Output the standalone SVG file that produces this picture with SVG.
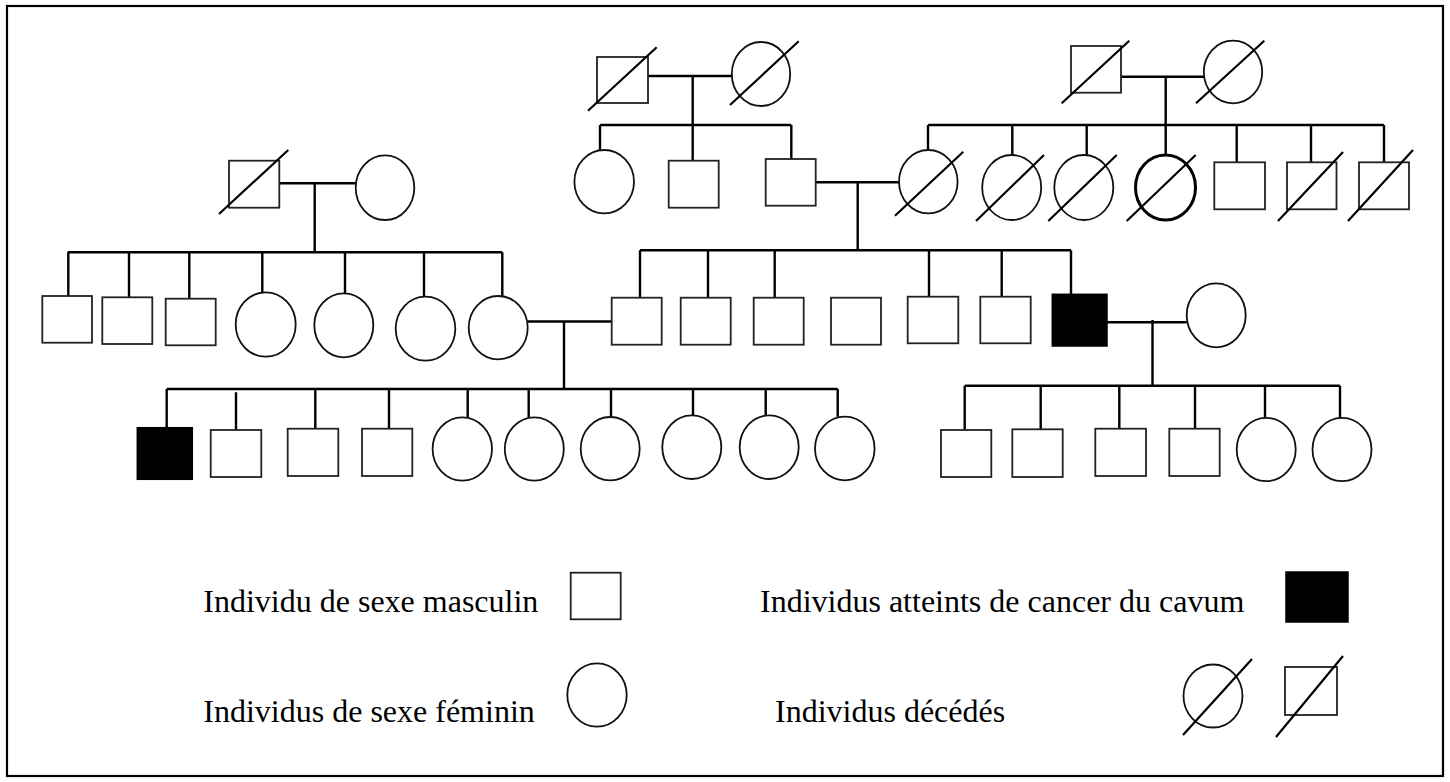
<svg xmlns="http://www.w3.org/2000/svg" width="1450" height="782" viewBox="0 0 1450 782">
<style>
.m{fill:#fff;stroke:#222;stroke-width:1.8}
.f{fill:#fff;stroke:#111;stroke-width:1.8}
.fb{fill:#fff;stroke:#000;stroke-width:3}
.a{fill:#000;stroke:#000;stroke-width:1.5}
.d{stroke:#000;stroke-width:2.2;fill:none}
.c{stroke:#000;stroke-width:2.4;fill:none}
.t{font-family:"Liberation Serif","Times New Roman",serif;font-size:32px;fill:#000}
</style>
<rect x="7" y="6" width="1436" height="770" fill="#fff" stroke="#000" stroke-width="2.2"/>
<g id="connectors" class="c">
<!-- top middle couple -->
<path d="M648 76H732M692.7 76V125M600 125H791.3M600 125V150M692.7 125V160.7M791.3 125V159"/>
<!-- top right couple -->
<path d="M1121 76.7H1204M1165.7 76.7V125M928 125H1384M928 125V150M1012.3 125V155M1086.7 125V155M1165.7 125V155M1236.7 125V162.3M1311 125V162M1384 125V162"/>
<!-- middle couple -->
<path d="M815.7 182.3H899M857.7 182.3V250.3M640 250.3H1071M640 250.3V297.7M708 250.3V297.7M774.7 250.3V297.7M929 250.3V296.7M1001.7 250.3V296.7M1071 250.3V294.3"/>
<!-- left grandparents -->
<path d="M279.3 183.3H355.7M314.7 183.3V252.3M67.7 252.3H502.3M68.3 252.3V296M129 252.3V297.3M189.3 252.3V298.7M262.3 252.3V292.3M345 252.3V293.3M424 252.3V296.7M502.3 252.3V296"/>
<!-- row2 left couple -->
<path d="M527.7 321.5H611.7M564 320.5V389M166.7 389H837.7M166.7 389V427.7M236 392.3V430M315.3 389V428.7M389 389V428.7M467.7 389V417.3M528.7 389V417.3M611 389V417M693 389V415.3M765.7 389V415.3M837.7 389V416.7"/>
<!-- row2 right couple -->
<path d="M1107 322.3H1186.7M1152.5 320V385.7M964.7 385.7H1340M964.7 385.7V430M1040.7 385.7V429.3M1119.3 385.7V428.7M1195 385.7V428.7M1265 385.7V418M1340 385.7V418"/>
</g>
<g id="gen1">
<g id="n-gm1"><rect class="m" x="597" y="57" width="51" height="46"/><line class="d" x1="588" y1="110.7" x2="656.7" y2="47.3"/></g>
<g id="n-gf1"><ellipse class="f" cx="761" cy="74" rx="29.2" ry="32"/><line class="d" x1="730" y1="105" x2="798.7" y2="41.3"/></g>
<g id="n-gm2"><rect class="m" x="1071" y="46" width="50" height="46.7"/><line class="d" x1="1061.7" y1="103.3" x2="1129.3" y2="40.7"/></g>
<g id="n-gf2"><ellipse class="f" cx="1233" cy="72" rx="29.2" ry="31.3"/><line class="d" x1="1196" y1="103.3" x2="1264.3" y2="40.7"/></g>
</g>
<g id="gen2">
<g id="n-lgm"><rect class="m" x="229" y="160.7" width="50.3" height="47"/><line class="d" x1="219" y1="214" x2="288.3" y2="150"/></g>
<g id="n-lgf"><ellipse class="f" cx="385" cy="187.7" rx="29.3" ry="32.3"/></g>
<g id="n-c1"><ellipse class="f" cx="604.2" cy="181.7" rx="29.8" ry="31.7"/></g>
<g id="n-c2"><rect class="m" x="668.7" y="160.7" width="50" height="47"/></g>
<g id="n-c3"><rect class="m" x="765.7" y="159" width="50" height="46.7"/></g>
<g id="n-r1"><ellipse class="f" cx="928.3" cy="181.7" rx="29.3" ry="31.7"/><line class="d" x1="895" y1="215.7" x2="963.3" y2="151.7"/></g>
<g id="n-r2"><ellipse class="f" cx="1011.7" cy="187.5" rx="29.5" ry="32.5"/><line class="d" x1="976" y1="221" x2="1044" y2="155"/></g>
<g id="n-r3"><ellipse class="f" cx="1083.8" cy="187.5" rx="29.5" ry="32.5"/><line class="d" x1="1048.3" y1="221" x2="1116.7" y2="155"/></g>
<g id="n-r4"><ellipse class="fb" cx="1165.5" cy="187.5" rx="30" ry="32.5"/><line class="d" x1="1126.7" y1="221" x2="1195.7" y2="155"/></g>
<g id="n-r5"><rect class="m" x="1214.3" y="162.3" width="50.7" height="47"/></g>
<g id="n-r6"><rect class="m" x="1287" y="162.3" width="49.5" height="47"/><line class="d" x1="1278" y1="221" x2="1343" y2="152"/></g>
<g id="n-r7"><rect class="m" x="1359" y="162.3" width="50" height="47"/><line class="d" x1="1348" y1="221" x2="1413" y2="150"/></g>
</g>
<g id="gen3">
<g id="n-l1"><rect class="m" x="42.3" y="296" width="49.7" height="46.7"/></g>
<g id="n-l2"><rect class="m" x="102.3" y="297.3" width="50" height="46.7"/></g>
<g id="n-l3"><rect class="m" x="165.7" y="298.7" width="50" height="46.6"/></g>
<g id="n-l4"><ellipse class="f" cx="265.7" cy="324.5" rx="30" ry="32.2"/></g>
<g id="n-l5"><ellipse class="f" cx="343.8" cy="325.3" rx="29.5" ry="32"/></g>
<g id="n-l6"><ellipse class="f" cx="425.5" cy="328.7" rx="29.8" ry="32"/></g>
<g id="n-l7"><ellipse class="f" cx="498.2" cy="327.7" rx="29.5" ry="31.7"/></g>
<g id="n-m1"><rect class="m" x="611.7" y="297.7" width="50" height="47"/></g>
<g id="n-m2"><rect class="m" x="680.7" y="297.7" width="50" height="47"/></g>
<g id="n-m3"><rect class="m" x="753.7" y="297.7" width="50" height="47"/></g>
<g id="n-m4"><rect class="m" x="831" y="297.7" width="50" height="47"/></g>
<g id="n-m5"><rect class="m" x="907.7" y="296.7" width="50.6" height="46.6"/></g>
<g id="n-m6"><rect class="m" x="980.3" y="296.7" width="50.4" height="46.6"/></g>
<g id="n-m7"><rect class="a" x="1052.3" y="294.3" width="54.7" height="51.7"/></g>
<g id="n-mw"><ellipse class="f" cx="1216.2" cy="315.3" rx="29.5" ry="32"/></g>
</g>
<g id="gen4">
<g id="n-g1"><rect class="a" x="137.3" y="427.7" width="55" height="51.6"/></g>
<g id="n-g2"><rect class="m" x="210.7" y="430" width="50.6" height="47"/></g>
<g id="n-g3"><rect class="m" x="287.7" y="428.7" width="50.6" height="47.3"/></g>
<g id="n-g4"><rect class="m" x="362" y="428.7" width="50.3" height="47.3"/></g>
<g id="n-g5"><ellipse class="f" cx="462.3" cy="449" rx="29.7" ry="31.7"/></g>
<g id="n-g6"><ellipse class="f" cx="534.3" cy="449" rx="29.5" ry="31.7"/></g>
<g id="n-g7"><ellipse class="f" cx="610.2" cy="448.7" rx="29.5" ry="31.7"/></g>
<g id="n-g8"><ellipse class="f" cx="691.8" cy="447.2" rx="29.5" ry="31.8"/></g>
<g id="n-g9"><ellipse class="f" cx="769.2" cy="447.2" rx="29.5" ry="31.8"/></g>
<g id="n-g10"><ellipse class="f" cx="844.8" cy="448.5" rx="29.8" ry="31.8"/></g>
<g id="n-h1"><rect class="m" x="941" y="430" width="50.3" height="47"/></g>
<g id="n-h2"><rect class="m" x="1012.3" y="429.3" width="50.4" height="47.7"/></g>
<g id="n-h3"><rect class="m" x="1095.3" y="428.7" width="50.7" height="47.3"/></g>
<g id="n-h4"><rect class="m" x="1169.3" y="428.7" width="50.4" height="47.3"/></g>
<g id="n-h5"><ellipse class="f" cx="1266.2" cy="449.5" rx="29.5" ry="31.7"/></g>
<g id="n-h6"><ellipse class="f" cx="1342" cy="449.5" rx="29.5" ry="31.7"/></g>
</g>
<g id="legend">
<text class="t" x="203.3" y="611.7">Individu de sexe masculin</text>
<rect class="m" x="570.7" y="572.7" width="50" height="46.6"/>
<text class="t" x="203.3" y="722.3">Individus de sexe féminin</text>
<ellipse class="f" cx="597" cy="695" rx="29.7" ry="31.7"/>
<text class="t" x="760" y="611.7">Individus atteints de cancer du cavum</text>
<rect class="a" x="1286" y="572" width="62" height="50"/>
<text class="t" x="775" y="722.3">Individus décédés</text>
<ellipse class="f" cx="1213" cy="696" rx="29.5" ry="31.5"/>
<line class="d" x1="1183" y1="735" x2="1252" y2="659"/>
<rect class="m" x="1285" y="667" width="52" height="48"/>
<line class="d" x1="1276" y1="737" x2="1343" y2="656"/>
</g>
</svg>
